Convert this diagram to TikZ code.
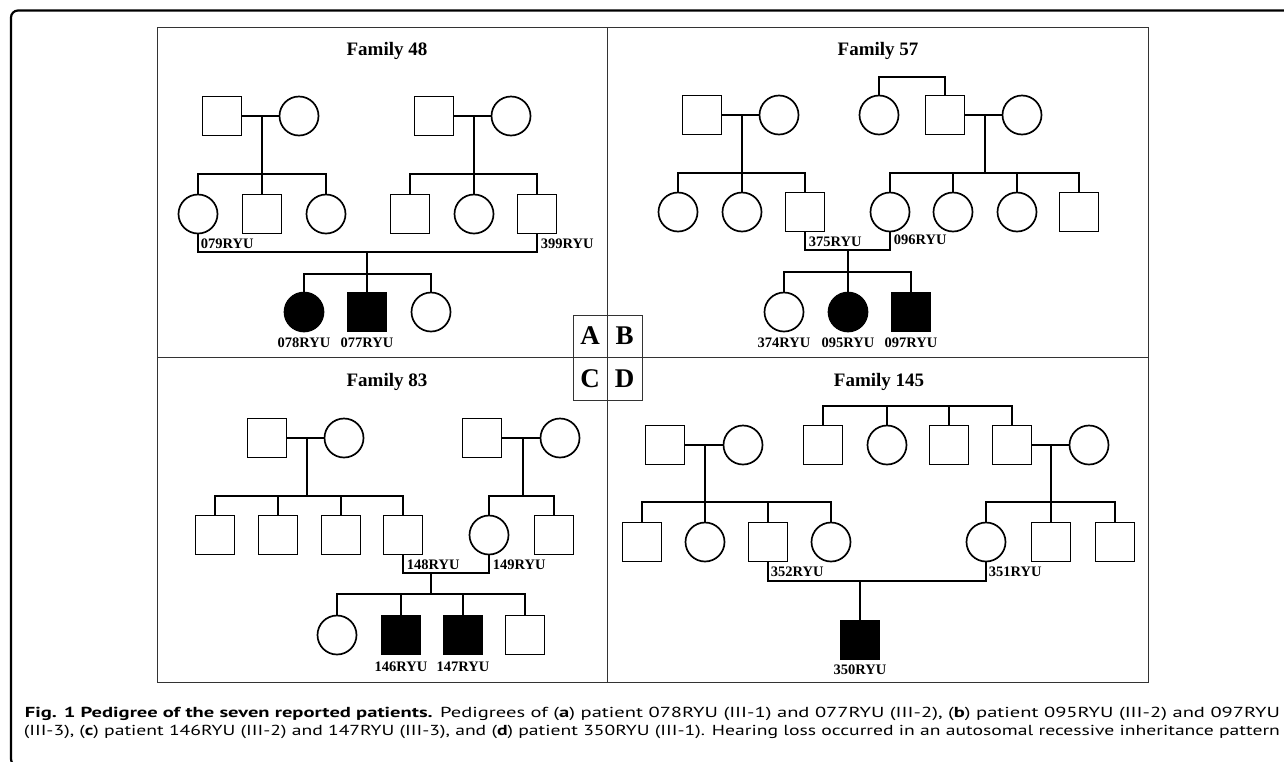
\documentclass[tikz,border=0pt]{standalone}
\usepackage{fontspec}
\usepackage{graphicx}
\newfontfamily\pedfont{Liberation Serif}
\newfontfamily\capfont{PT Sans}
\usetikzlibrary{calc}

\begin{document}
\begin{tikzpicture}[x=1pt, y=-1pt, line width=1.7pt,
	male/.style={draw, rectangle, minimum size=39pt, inner sep=0pt},
	female/.style={draw, circle, minimum size=39pt, inner sep=0pt},
	aff/.style={fill=black},
	pid/.style={font=\pedfont\bfseries\fontsize{14.5}{15}\selectfont, inner sep=0pt},
	famtitle/.style={font=\pedfont\bfseries\fontsize{19}{21}\selectfont},
	panel/.style={font=\pedfont\bfseries\fontsize{27}{28}\selectfont, inner sep=0pt},
	boxline/.style={line width=1pt, black!80}]

	\useasboundingbox (0,0) rectangle (1284,761);
	\draw[line width=2.2pt, rounded corners=7pt] (1290,10.5) -- (11,10.5) -- (11,766) -- (30,766);

	\draw[boxline] (157,27) rectangle (1148,682);
	\draw[boxline] (157,357) -- (1148,357);
	\draw[boxline] (607,27) -- (607,682);
	\draw[boxline] (573,315) rectangle (642,400);
	\node[panel] (pA) at (590,336) {A};
	\node[panel] (pB) at (624.5,336) {B};
	\node[panel] (pC) at (590,378.5) {C};
	\node[panel] (pD) at (624.5,378.5) {D};

	% Family 48
	\node[famtitle] (t48) at (387,51) {Family 48};
	\node[male] (a1) at (222,116) {};
	\node[female] (a2) at (299,116) {};
	\node[male] (a3) at (434,116) {};
	\node[female] (a4) at (511,116) {};
	\node[female] (a5) at (198,214) {};
	\node[male] (a6) at (262,214) {};
	\node[female] (a7) at (326,214) {};
	\node[male] (a8) at (410,214) {};
	\node[female] (a9) at (474,214) {};
	\node[male] (a10) at (537,214) {};
	\node[female, aff] (a11) at (304,312) {};
	\node[male, aff] (a12) at (367,312) {};
	\node[female] (a13) at (431,312) {};
	\coordinate (a-s1) at (262,174);
	\coordinate (a-s2) at (474,174);
	\coordinate (a-m) at (367,252);
	\coordinate (a-s3) at (367,274);
	\draw (a1) -- (a2);
	\draw (a-s1 |- a1) -- (a-s1);
	\draw (a5) |- (a-s1) -| (a7);
	\draw (a-s1) -- (a6);
	\draw (a3) -- (a4);
	\draw (a-s2 |- a3) -- (a-s2);
	\draw (a8) |- (a-s2) -| (a10);
	\draw (a-s2) -- (a9);
	\draw (a5) |- (a-m) -| (a10);
	\draw (a-m) -- (a-s3);
	\draw (a11) |- (a-s3) -| (a13);
	\draw (a-s3) -- (a12);
	\node[pid, anchor=west] (l079) at (200,244) {079RYU};
	\node[pid, anchor=west] (l399) at (540,244) {399RYU};
	\node[pid] (l078) at (304,343) {078RYU};
	\node[pid] (l077) at (367,343) {077RYU};

	% Family 57
	\node[famtitle] (t57) at (878,51) {Family 57};
	\node[male] (b1) at (702,115) {};
	\node[female] (b2) at (779,115) {};
	\node[female] (b3) at (879,115) {};
	\node[male] (b4) at (945,115) {};
	\node[female] (b5) at (1022,115) {};
	\node[female] (b6) at (678,212) {};
	\node[female] (b7) at (742,212) {};
	\node[male] (b8) at (805,212) {};
	\node[female] (b9) at (890,212) {};
	\node[female] (b10) at (953,212) {};
	\node[female] (b11) at (1017,212) {};
	\node[male] (b12) at (1079,212) {};
	\node[female] (b13) at (784,312) {};
	\node[female, aff] (b14) at (848,312) {};
	\node[male, aff] (b15) at (911,312) {};
	\coordinate (b-s0) at (912,77);
	\coordinate (b-s1) at (742,173);
	\coordinate (b-s2) at (985,173);
	\coordinate (b-m) at (848,250);
	\coordinate (b-s3) at (848,272);
	\draw (b3) |- (b-s0) -| (b4);
	\draw (b1) -- (b2);
	\draw (b-s1 |- b1) -- (b-s1);
	\draw (b6) |- (b-s1) -| (b8);
	\draw (b-s1) -- (b7);
	\draw (b4) -- (b5);
	\draw (b-s2 |- b4) -- (b-s2);
	\draw (b9) |- (b-s2) -| (b12);
	\draw (b10) -- (b10 |- b-s2);
	\draw (b11) -- (b11 |- b-s2);
	\draw (b8) |- (b-m) -| (b9);
	\draw (b-m) -- (b-s3);
	\draw (b13) |- (b-s3) -| (b15);
	\draw (b-s3) -- (b14);
	\node[pid, anchor=west] (l375) at (808,242) {375RYU};
	\node[pid, anchor=west] (l096) at (893,240) {096RYU};
	\node[pid] (l374) at (784,343) {374RYU};
	\node[pid] (l095) at (848,343) {095RYU};
	\node[pid] (l097) at (911,343) {097RYU};

	% Family 83
	\node[famtitle] (t83) at (387,382) {Family 83};
	\node[male] (c1) at (267,438) {};
	\node[female] (c2) at (344,438) {};
	\node[male] (c3) at (482,438) {};
	\node[female] (c4) at (560,438) {};
	\node[male] (c5) at (215,535) {};
	\node[male] (c6) at (278,535) {};
	\node[male] (c7) at (341,535) {};
	\node[male] (c8) at (403,535) {};
	\node[female] (c9) at (489,535) {};
	\node[male] (c10) at (554,535) {};
	\node[female] (c11) at (337,635) {};
	\node[male, aff] (c12) at (401,635) {};
	\node[male, aff] (c13) at (463,635) {};
	\node[male] (c14) at (525,635) {};
	\coordinate (c-s1) at (307,496);
	\coordinate (c-s2) at (523,496);
	\coordinate (c-m) at (431,573);
	\coordinate (c-s3) at (431,594);
	\draw (c1) -- (c2);
	\draw (c-s1 |- c1) -- (c-s1);
	\draw (c5) |- (c-s1) -| (c8);
	\draw (c6) -- (c6 |- c-s1);
	\draw (c7) -- (c7 |- c-s1);
	\draw (c3) -- (c4);
	\draw (c-s2 |- c3) -- (c-s2);
	\draw (c9) |- (c-s2) -| (c10);
	\draw (c8) |- (c-m) -| (c9);
	\draw (c-m) -- (c-s3);
	\draw (c11) |- (c-s3) -| (c14);
	\draw (c12) -- (c12 |- c-s3);
	\draw (c13) -- (c13 |- c-s3);
	\node[pid, anchor=west] (l148) at (406,565) {148RYU};
	\node[pid, anchor=west] (l149) at (492,565) {149RYU};
	\node[pid] (l146) at (401,667) {146RYU};
	\node[pid] (l147) at (463,667) {147RYU};

	% Family 145
	\node[famtitle] (t145) at (879,382) {Family 145};
	\node[male] (d1) at (665,445) {};
	\node[female] (d2) at (743,445) {};
	\node[male] (d3) at (823,445) {};
	\node[female] (d4) at (887,445) {};
	\node[male] (d5) at (949,445) {};
	\node[male] (d6) at (1012,445) {};
	\node[female] (d7) at (1089,445) {};
	\node[male] (d8) at (642,542) {};
	\node[female] (d9) at (705,542) {};
	\node[male] (d10) at (768,542) {};
	\node[female] (d11) at (831,542) {};
	\node[female] (d12) at (986,542) {};
	\node[male] (d13) at (1051,542) {};
	\node[male] (d14) at (1115,542) {};
	\node[male, aff] (d15) at (860,640) {};
	\coordinate (d-s0) at (917,406);
	\coordinate (d-s1) at (705,502);
	\coordinate (d-s2) at (1051,502);
	\coordinate (d-m) at (860,581);
	\draw (d3) |- (d-s0) -| (d6);
	\draw (d4) -- (d4 |- d-s0);
	\draw (d5) -- (d5 |- d-s0);
	\draw (d1) -- (d2);
	\draw (d-s1 |- d1) -- (d-s1);
	\draw (d8) |- (d-s1) -| (d11);
	\draw (d-s1) -- (d9);
	\draw (d10) -- (d10 |- d-s1);
	\draw (d6) -- (d7);
	\draw (d-s2 |- d6) -- (d-s2);
	\draw (d12) |- (d-s2) -| (d14);
	\draw (d-s2) -- (d13);
	\draw (d10) |- (d-m) -| (d12);
	\draw (d-m) -- (d15);
	\node[pid, anchor=west] (l352) at (770,572) {352RYU};
	\node[pid, anchor=west] (l351) at (988,572) {351RYU};
	\node[pid] (l350) at (860,670) {350RYU};

	\node[anchor=base west, inner sep=0pt] (cap1) at (24,717) {\resizebox{1255pt}{\height}{\capfont\fontsize{14.5}{16}\selectfont\textbf{Fig. 1 Pedigree of the seven reported patients.} Pedigrees of (\textbf{a}) patient 078RYU (III-1) and 077RYU (III-2), (\textbf{b}) patient 095RYU (III-2) and 097RYU}};
	\node[anchor=base west, inner sep=0pt] (cap2) at (23,735) {\resizebox{1256pt}{\height}{\capfont\fontsize{14.5}{16}\selectfont(III-3), (\textbf{c}) patient 146RYU (III-2) and 147RYU (III-3), and (\textbf{d}) patient 350RYU (III-1). Hearing loss occurred in an autosomal recessive inheritance pattern}};
\end{tikzpicture}
\end{document}
